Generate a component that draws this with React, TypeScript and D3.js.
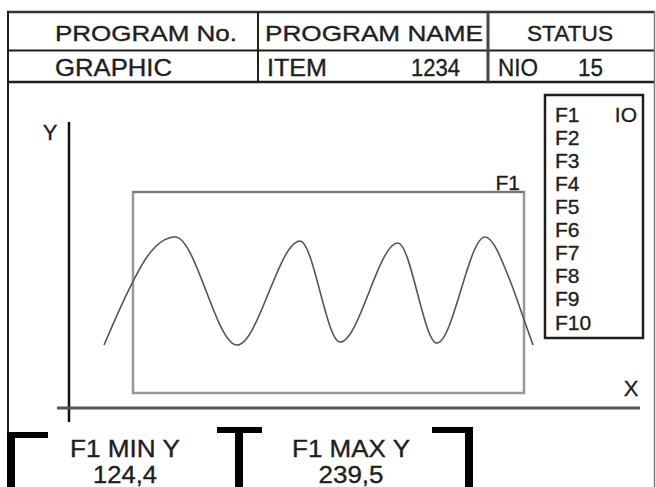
import React from "react";
import * as d3 from "d3";

// ---- data ----
const headerTitles = ["PROGRAM No.", "PROGRAM NAME", "STATUS"];
const headerValues = ["GRAPHIC", "ITEM", "1234", "NIO", "15"];
const legendItems = ["F1", "F2", "F3", "F4", "F5", "F6", "F7", "F8", "F9", "F10"];
const legendState = "IO";
const windowLabel = "F1";
const axisLabels = ["X", "Y"];
const curveX = [0, 6.8, 10.0, 16.6, 31.0, 45.7, 55.0, 68.5, 77.6, 88.8, 94.6, 97.2, 100];
const curveY = [124.4, 192.6, 218.2, 239.5, 124.4, 235.2, 127.6, 233.1, 126.5, 239.5, 193.7, 160.6, 124.4];
const statLabels = ["F1 MIN Y", "F1 MAX Y"];
const statValues = ["124,4", "239,5"];

// ---- layout ----
const W = 656;
const H = 487;
const FONT = "'Liberation Sans', Arial, Helvetica, sans-serif";
const INK = "#1e1e1e";

const titleLayout = [
  { x: 55, len: 182 },
  { x: 265, len: 218 },
  { x: 527, len: 86 },
];
const valueLayout = [
  { x: 55, len: 117 },
  { x: 267, len: 60 },
  { x: 411, len: 49 },
  { x: 498, len: 40 },
  { x: 578, len: 25 },
];
const statLayout = [
  { cx: 125, len: 110, vlen: 64 },
  { cx: 351, len: 118, vlen: 65 },
];

const txt = { fill: INK, stroke: INK, strokeWidth: 0.35 };

export default function App() {
  const xScale = d3.scaleLinear().domain([0, 100]).range([104, 533]);
  const yScale = d3.scaleLinear().domain([124.4, 239.5]).range([345, 237]);
  const pts: [number, number][] = curveX.map((x, i) => [x, curveY[i]]);
  const line = d3
    .line<[number, number]>()
    .x((d) => xScale(d[0]))
    .y((d) => yScale(d[1]))
    .curve(d3.curveMonotoneX);

  const legendY = d3.scaleLinear().domain([0, legendItems.length - 1]).range([121.5, 329.5]);

  return (
    <svg
      width={W}
      height={H}
      viewBox={`0 0 ${W} ${H}`}
      style={{ position: "fixed", left: 0, top: 0, background: "#fff" }}
      fontFamily={FONT}
    >
      <rect x={0} y={0} width={W} height={H} fill="#fff" />
      {/* header frame */}
      <g stroke={INK} fill="none">
        <line x1={7} x2={655} y1={12} y2={12} strokeWidth={2.5} stroke="#333" />
        <line x1={8} x2={655} y1={50.5} y2={50.5} strokeWidth={2} />
        <line x1={8} x2={655} y1={82} y2={82} strokeWidth={2.5} />
        <line x1={258} x2={258} y1={12} y2={82} strokeWidth={2} />
        <line x1={488} x2={488} y1={12} y2={82} strokeWidth={3} stroke="#444" />
        <line x1={8} x2={8} y1={11} y2={436} strokeWidth={2} />
        <line x1={654.5} x2={654.5} y1={11} y2={H} strokeWidth={1.5} stroke="#777" />
      </g>
      {headerTitles.map((t, i) => (
        <text
          key={t}
          x={titleLayout[i].x}
          y={40.5}
          fontSize={22}
          {...txt}
          textLength={titleLayout[i].len}
          lengthAdjust="spacingAndGlyphs"
        >
          {t}
        </text>
      ))}
      {headerValues.map((t, i) => (
        <text
          key={t}
          x={valueLayout[i].x}
          y={76}
          fontSize={24}
          {...txt}
          textLength={valueLayout[i].len}
          lengthAdjust="spacingAndGlyphs"
        >
          {t}
        </text>
      ))}

      {/* axes */}
      <line x1={69} x2={69} y1={122} y2={422} stroke="#111" strokeWidth={2.5} />
      <line x1={57} x2={640} y1={408} y2={408} stroke="#555" strokeWidth={3} />
      <text x={50} y={140} fontSize={22} {...txt} textAnchor="middle">
        {axisLabels[1]}
      </text>
      <text x={631} y={396} fontSize={22} {...txt} textAnchor="middle">
        {axisLabels[0]}
      </text>

      {/* window rectangle */}
      <rect x={133} y={192} width={391} height={201} fill="none" stroke="#999" strokeWidth={2.5} />
      <line x1={133} x2={524} y1={192} y2={192} stroke="#777" strokeWidth={2} />
      <text x={520} y={190} fontSize={21} {...txt} textAnchor="end">
        {windowLabel}
      </text>

      {/* curve */}
      <path d={line(pts) || ""} fill="none" stroke="#555" strokeWidth={1.6} />

      {/* legend */}
      <rect x={545} y={95} width={98} height={243} fill="#fff" stroke={INK} strokeWidth={2.5} />
      {legendItems.map((t, i) => (
        <text key={t} x={555} y={legendY(i)} fontSize={21} {...txt}>
          {t}
        </text>
      ))}
      <text x={637} y={legendY(0)} fontSize={21} {...txt} textAnchor="end">
        {legendState}
      </text>

      {/* bottom brackets */}
      <g fill="#000">
        <rect x={7} y={432} width={41} height={6} />
        <rect x={7} y={432} width={8} height={H - 432} />
        <rect x={217} y={427} width={45} height={6} />
        <rect x={235} y={427} width={8} height={H - 427} />
        <rect x={432} y={427} width={41} height={6} />
        <rect x={465} y={427} width={8} height={H - 427} />
      </g>
      {statLabels.map((t, i) => (
        <g key={t}>
          <text
            x={statLayout[i].cx - statLayout[i].len / 2}
            y={457}
            fontSize={24}
            {...txt}
            textLength={statLayout[i].len}
            lengthAdjust="spacingAndGlyphs"
          >
            {t}
          </text>
          <text
            x={statLayout[i].cx - statLayout[i].vlen / 2}
            y={483}
            fontSize={24}
            {...txt}
            textLength={statLayout[i].vlen}
            lengthAdjust="spacingAndGlyphs"
          >
            {statValues[i]}
          </text>
        </g>
      ))}
    </svg>
  );
}
